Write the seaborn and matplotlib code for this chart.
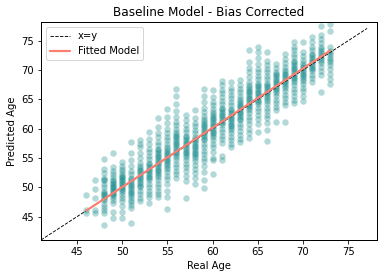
import matplotlib
matplotlib.use("Agg")
import matplotlib.pyplot as plt
import seaborn as sns
import pandas as pd

# Predicted ages per real-age column
pred_by_age = {
    46: [45.6, 46.2, 48.6],
    47: [45.6, 46.2, 48.1, 49.7, 51.3],
    48: [43.5, 45.6, 46.1, 46.6, 47.2, 47.8, 48.3, 48.8, 49.4, 50.0, 50.6, 51.2, 51.6, 52.5, 53.2, 54.9],
    49: [44.8, 45.8, 47.3, 47.9, 48.4, 48.9, 49.3, 49.8, 50.3, 50.8, 51.3, 51.8, 52.3, 52.8, 53.4, 55.9],
    50: [44.8, 45.8, 46.8, 47.6, 48.2, 48.7, 49.2, 49.7, 50.2, 50.7, 51.2, 51.7, 52.2, 52.7, 53.2, 53.7, 54.3],
    51: [43.9, 46.4, 46.9, 47.4, 47.9, 48.6, 49.2, 49.8, 50.4, 51.0, 51.6, 52.2, 52.8, 53.6, 54.7, 55.8, 57.7],
    52: [47.6, 48.2, 48.8, 49.4, 50.0, 50.6, 51.2, 51.8, 52.4, 53.0, 53.6, 54.2, 55.0, 55.9, 56.8, 57.4, 58.1],
    53: [47.3, 48.3, 48.8, 49.4, 50.0, 50.6, 51.2, 51.8, 52.4, 53.0, 53.6, 54.2, 54.8, 55.4, 56.0, 56.6, 57.3, 58.2, 59.5],
    54: [48.3, 48.8, 49.4, 50.0, 50.6, 51.2, 51.8, 52.4, 53.0, 53.6, 54.2, 54.8, 55.4, 56.0, 56.6, 57.2, 57.8, 58.5, 59.3, 60.3, 61.8],
    55: [46.3, 48.4, 49.4, 50.6, 51.4, 52.0, 52.6, 53.2, 53.8, 54.4, 55.0, 55.6, 56.2, 56.8, 57.4, 58.0, 58.6, 59.3, 60.0, 61.0, 62.0, 63.4],
    56: [51.6, 52.2, 52.8, 53.4, 54.0, 54.6, 55.2, 55.8, 56.4, 57.0, 57.6, 58.2, 58.8, 59.4, 60.0, 60.6, 61.2, 62.0, 63.0, 64.2, 65.5, 66.7],
    57: [48.1, 51.0, 52.0, 52.8, 53.4, 54.0, 54.6, 55.2, 55.8, 56.4, 57.0, 57.6, 58.2, 58.8, 59.4, 60.0, 60.6, 61.4, 62.3],
    58: [50.5, 51.5, 52.5, 53.2, 53.8, 54.4, 55.0, 55.6, 56.2, 56.8, 57.4, 58.0, 58.6, 59.2, 59.8, 60.4, 61.0, 61.8, 63.1],
    59: [49.9, 51.2, 52.6, 53.6, 54.4, 55.0, 55.6, 56.2, 56.8, 57.4, 58.0, 58.6, 59.2, 59.8, 60.4, 61.0, 61.6, 62.2, 62.8, 63.6, 64.6, 65.6, 66.7],
    60: [52.3, 54.6, 55.0, 56.0, 56.8, 57.4, 58.0, 58.6, 59.2, 59.8, 60.4, 61.0, 61.6, 62.2, 62.8, 63.4, 64.0, 64.6, 65.4, 66.6],
    61: [54.6, 55.3, 57.6, 58.2, 58.8, 59.4, 60.0, 60.6, 61.2, 61.8, 62.4, 63.0, 63.6, 64.2, 64.8, 65.4, 66.0, 66.6, 67.4, 68.2],
    62: [56.8, 57.3, 58.0, 58.6, 59.2, 59.8, 60.4, 61.0, 61.6, 62.2, 62.8, 63.4, 64.0, 64.6, 65.2, 65.8, 66.4, 67.0, 68.0],
    63: [57.7, 58.3, 59.0, 59.6, 60.2, 60.8, 61.4, 62.0, 62.6, 63.2, 63.8, 64.4, 65.0, 65.6, 66.2, 66.8, 67.4, 68.3],
    64: [58.4, 59.2, 60.0, 60.8, 61.4, 62.0, 62.6, 63.2, 63.8, 64.4, 65.0, 65.6, 66.2, 66.8, 67.4, 68.0, 68.8, 69.6, 70.4, 71.4, 73.4],
    65: [59.5, 60.8, 61.6, 62.4, 63.0, 63.6, 64.2, 64.8, 65.4, 66.0, 66.6, 67.2, 67.8, 68.4, 69.0, 69.6, 70.2, 71.0, 72.0, 73.0, 74.0],
    66: [57.9, 59.7, 61.0, 61.8, 62.4, 63.0, 63.6, 64.2, 64.8, 65.4, 66.0, 66.6, 67.2, 67.8, 68.4, 69.0, 69.6, 70.2, 70.8, 71.5, 73.1],
    67: [61.2, 63.1, 63.7, 64.3, 64.9, 65.5, 66.1, 66.7, 67.3, 67.9, 68.5, 69.1, 69.7, 70.3, 71.1],
    68: [61.2, 64.0, 64.6, 65.2, 65.8, 66.4, 67.0, 67.6, 68.2, 68.8, 69.4, 70.0, 70.6, 71.2, 71.9, 72.8],
    69: [64.3, 64.9, 65.6, 66.2, 66.8, 67.4, 68.0, 68.6, 69.2, 69.8, 70.4, 71.0, 71.6, 72.2, 72.8, 73.4, 73.9, 74.8],
    70: [64.8, 65.6, 66.4, 67.0, 67.6, 68.2, 68.8, 69.4, 70.0, 70.6, 71.2, 71.8, 72.4, 73.1, 74.8],
    71: [68.0, 68.6, 69.2, 69.8, 70.4, 71.0, 71.6, 72.2, 72.8, 73.4, 74.0, 74.8, 75.6],
    72: [66.3, 69.1, 69.8, 70.5, 71.2, 71.9, 72.6, 73.3, 74.0, 74.7, 75.3, 75.9, 77.6],
    73: [67.7, 68.5, 69.3, 70.1, 70.9, 71.7, 72.5, 73.2, 73.9, 76.6, 77.9],
}

# Extra overlapping points in the darker cores of each column
core_by_age = {
    48: [48.0, 48.6, 49.1, 51.3],
    49: [48.6, 49.1, 49.6, 50.1, 50.6, 51.1],
    50: [49.5, 50.0, 50.5, 51.0, 51.5, 52.0],
    51: [48.3, 49.0, 49.6, 50.2, 50.8, 51.4],
    52: [50.3, 50.9, 51.5, 52.1, 52.7, 53.3],
    53: [51.5, 52.1, 52.7, 53.3, 53.9],
    54: [52.1, 52.7, 53.3, 53.9, 54.5, 55.1, 55.7, 56.3],
    55: [53.5, 54.1, 54.7, 55.3, 55.9, 56.5],
    56: [55.5, 56.1, 56.7, 57.3, 57.9, 58.5, 59.1],
    57: [55.5, 56.1, 56.7, 57.3, 57.9, 58.5],
    58: [55.3, 55.9, 56.5, 57.1, 57.7, 58.3],
    59: [58.3, 58.9, 59.5, 60.1, 60.7, 61.3],
    60: [58.9, 59.5, 60.1, 60.7, 61.3, 61.9, 62.5],
    61: [60.9, 61.5, 62.1, 62.7, 63.3],
    62: [60.1, 60.7, 61.3, 61.9, 62.5, 63.1],
    63: [61.7, 62.3, 62.9, 63.5, 64.1, 64.7],
    64: [63.5, 64.1, 64.7, 65.3, 65.9, 66.5, 67.1],
    65: [64.5, 65.1, 65.7, 66.3, 66.9, 67.5],
    66: [65.1, 65.7, 66.3, 66.9, 67.5],
    67: [66.4, 67.0, 67.6, 68.2, 68.8, 69.4],
    68: [67.3, 67.9, 68.5, 69.1, 69.7],
    69: [68.3, 68.9, 69.5, 70.1, 70.7, 71.3],
    70: [68.5, 69.1, 69.7, 70.3, 70.9],
    71: [70.1, 70.7, 71.3, 71.9, 72.5],
    72: [71.5, 72.2, 72.9, 73.6],
    73: [71.3, 72.1, 72.9],
}

identity_x = [41.0, 77.1]
fit_x = [46.0, 73.0]
fit_y = [46.0, 73.3]

x_ticks = [45, 50, 55, 60, 65, 70, 75]
y_ticks = [45, 50, 55, 60, 65, 70, 75]

real_age = []
pred_age = []
for table in (pred_by_age, core_by_age):
    for age, preds in table.items():
        for p in preds:
            real_age.append(age)
            pred_age.append(p)
df = pd.DataFrame({"Real Age": real_age, "Predicted Age": pred_age})

sns.set_style("ticks")
plt.rcParams["font.family"] = ["DejaVu Sans"]

fig = plt.figure(figsize=(382 / 72, 278 / 72), dpi=72)
ax = fig.add_axes([41 / 382, 1 - 240 / 278, 336 / 382, 218 / 278])

sns.scatterplot(data=df, x="Real Age", y="Predicted Age", color="#008080",
                alpha=0.3, s=42, linewidth=0, ax=ax)
ax.plot(identity_x, identity_x, "k--", linewidth=0.9, label="x=y")
ax.plot(fit_x, fit_y, color="salmon", linewidth=2.2, label="Fitted Model")

ax.set_xlim(41.0, 78.2)
ax.set_ylim(41.0, 78.2)
ax.set_xticks(x_ticks)
ax.set_yticks(y_ticks)
ax.tick_params(labelsize=10, colors="black", length=3.5)
ax.set_xlabel("Real Age", fontsize=10, color="black")
ax.set_ylabel("Predicted Age", fontsize=10, color="black")
ax.set_title("Baseline Model - Bias Corrected", fontsize=12, color="black")
for sp in ax.spines.values():
    sp.set_color("black")
    sp.set_linewidth(1.0)
leg = ax.legend(loc="upper left", fontsize=10, frameon=True)
for t in leg.get_texts():
    t.set_color("black")

fig.savefig("out.png", dpi=72)
